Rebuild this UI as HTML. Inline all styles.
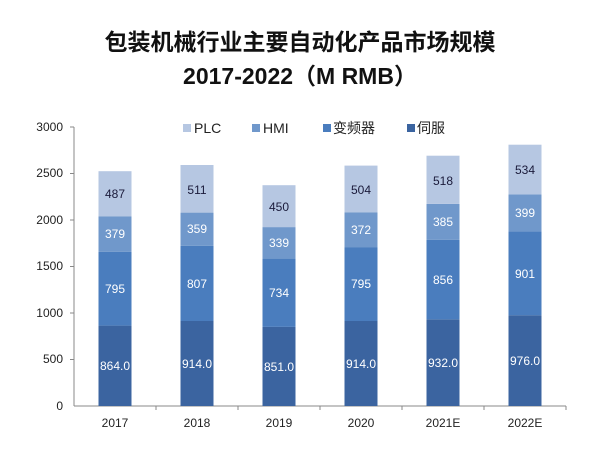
<!DOCTYPE html>
<html><head><meta charset="utf-8"><style>
body{margin:0;background:#fff;width:601px;height:465px;overflow:hidden}
svg{display:block}
text{font-family:"Liberation Sans","Noto Sans CJK SC",sans-serif}
</style></head><body>
<svg width="601" height="465" xmlns="http://www.w3.org/2000/svg">
<text x="300" y="50" text-anchor="middle" font-size="23" font-weight="bold" fill="#111">包装机械行业主要自动化产品市场规模</text>
<text x="300" y="84" text-anchor="middle" font-size="23" font-weight="bold" fill="#111">2017-2022（M RMB）</text>
<g font-size="12" fill="#222" text-anchor="end">
<text x="63" y="410">0</text><text x="63" y="363">500</text><text x="63" y="317">1000</text><text x="63" y="270">1500</text><text x="63" y="224">2000</text><text x="63" y="177">2500</text><text x="63" y="131">3000</text>
</g>
<g stroke="#888" stroke-width="1">
<line x1="74" y1="127" x2="74" y2="406"/><line x1="74" y1="406" x2="566" y2="406"/>
<line x1="70" y1="127" x2="74" y2="127"/><line x1="70" y1="173.5" x2="74" y2="173.5"/><line x1="70" y1="220" x2="74" y2="220"/><line x1="70" y1="266.5" x2="74" y2="266.5"/><line x1="70" y1="313" x2="74" y2="313"/><line x1="70" y1="359.5" x2="74" y2="359.5"/>
<line x1="156" y1="406" x2="156" y2="410"/><line x1="238" y1="406" x2="238" y2="410"/><line x1="320" y1="406" x2="320" y2="410"/><line x1="402" y1="406" x2="402" y2="410"/><line x1="484" y1="406" x2="484" y2="410"/><line x1="566" y1="406" x2="566" y2="410"/>
</g>
<g>
<rect x="98.5" y="325.6" width="33" height="80.4" fill="#3b64a0"/><rect x="98.5" y="251.7" width="33" height="73.9" fill="#4a7dbe"/><rect x="98.5" y="216.5" width="33" height="35.2" fill="#7098cb"/><rect x="98.5" y="171.2" width="33" height="45.3" fill="#b6c7e2"/>
<rect x="180.5" y="321" width="33" height="85" fill="#3b64a0"/><rect x="180.5" y="245.9" width="33" height="75.1" fill="#4a7dbe"/><rect x="180.5" y="212.6" width="33" height="33.3" fill="#7098cb"/><rect x="180.5" y="165" width="33" height="47.6" fill="#b6c7e2"/>
<rect x="262.5" y="326.9" width="33" height="79.1" fill="#3b64a0"/><rect x="262.5" y="258.6" width="33" height="68.3" fill="#4a7dbe"/><rect x="262.5" y="227.1" width="33" height="31.5" fill="#7098cb"/><rect x="262.5" y="185.2" width="33" height="41.9" fill="#b6c7e2"/>
<rect x="344.5" y="321" width="33" height="85" fill="#3b64a0"/><rect x="344.5" y="247.1" width="33" height="73.9" fill="#4a7dbe"/><rect x="344.5" y="212.5" width="33" height="34.6" fill="#7098cb"/><rect x="344.5" y="165.6" width="33" height="46.9" fill="#b6c7e2"/>
<rect x="426.5" y="319.3" width="33" height="86.7" fill="#3b64a0"/><rect x="426.5" y="239.7" width="33" height="79.6" fill="#4a7dbe"/><rect x="426.5" y="203.9" width="33" height="35.8" fill="#7098cb"/><rect x="426.5" y="155.7" width="33" height="48.2" fill="#b6c7e2"/>
<rect x="508.5" y="315.2" width="33" height="90.8" fill="#3b64a0"/><rect x="508.5" y="231.4" width="33" height="83.8" fill="#4a7dbe"/><rect x="508.5" y="194.3" width="33" height="37.1" fill="#7098cb"/><rect x="508.5" y="144.7" width="33" height="49.6" fill="#b6c7e2"/>
</g>
<g font-size="12" text-anchor="middle" fill="#fff">
<text x="115" y="370">864.0</text><text x="115" y="293">795</text><text x="115" y="238">379</text>
<text x="197" y="368">914.0</text><text x="197" y="288">807</text><text x="197" y="233">359</text>
<text x="279" y="371">851.0</text><text x="279" y="297">734</text><text x="279" y="247">339</text>
<text x="361" y="368">914.0</text><text x="361" y="288">795</text><text x="361" y="234">372</text>
<text x="443" y="367">932.0</text><text x="443" y="284">856</text><text x="443" y="226">385</text>
<text x="525" y="365">976.0</text><text x="525" y="278">901</text><text x="525" y="217">399</text>
</g>
<g font-size="12" text-anchor="middle" fill="#1a1a3a">
<text x="115" y="198">487</text><text x="197" y="194">511</text><text x="279" y="211">450</text><text x="361" y="194">504</text><text x="443" y="185">518</text><text x="525" y="174">534</text>
</g>
<g font-size="12" text-anchor="middle" fill="#222">
<text x="115" y="427">2017</text><text x="197" y="427">2018</text><text x="279" y="427">2019</text><text x="361" y="427">2020</text><text x="443" y="427">2021E</text><text x="525" y="427">2022E</text>
</g>
<g font-size="14" fill="#222">
<rect x="183" y="124" width="8" height="8" fill="#b6c7e2"/><text x="194" y="133">PLC</text>
<rect x="252" y="124" width="8" height="8" fill="#7098cb"/><text x="263" y="133">HMI</text>
<rect x="323" y="124" width="8" height="8" fill="#4a7dbe"/><text x="333" y="133">变频器</text>
<rect x="407" y="124" width="8" height="8" fill="#3b64a0"/><text x="417" y="133">伺服</text>
</g>
</svg>
</body></html>
